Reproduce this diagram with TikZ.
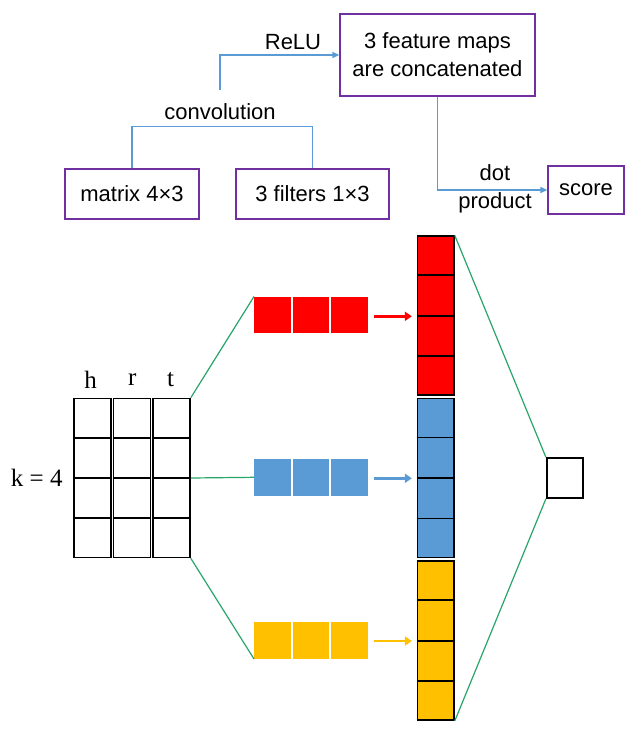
\documentclass[tikz,border=0pt]{standalone}
\usepackage{fontspec}
\setmainfont{Liberation Sans}
\newfontfamily\serifface{Liberation Serif}
\usetikzlibrary{arrows.meta}
\definecolor{boxpurple}{RGB}{112,48,160}
\definecolor{linkblue}{RGB}{91,155,213}
\definecolor{fillred}{RGB}{255,0,0}
\definecolor{fillblue}{RGB}{91,155,213}
\definecolor{fillyellow}{RGB}{255,192,0}
\definecolor{linkgreen}{RGB}{40,165,105}
\tikzset{
  lbox/.style={draw=boxpurple, line width=1.3pt, inner sep=0pt, align=center,
    font=\fontsize{22}{28}\selectfont},
  lbl/.style={inner sep=0pt, font=\fontsize{22}{28}\selectfont, align=center},
  sel/.style={inner sep=0pt, font=\serifface\fontsize{25}{30}\selectfont},
  link/.style={draw=linkblue, line width=1.3pt},
  linkarrow/.style={link, -{Triangle[length=7pt,width=6pt]}},
  mcol/.style={draw=black, line width=1.6pt, minimum width=37pt, minimum height=159pt, inner sep=0pt},
  fbar/.style={inner sep=0pt, minimum width=114pt, minimum height=36.5pt},
  ccell/.style={draw=black, line width=1.6pt, minimum width=36.3pt, minimum height=159pt, inner sep=0pt},
  green/.style={draw=linkgreen, line width=1.2pt},
  barrow/.style={line width=2.8pt, -{Triangle[length=7pt,width=9pt]}}
}
\begin{document}
\begin{tikzpicture}[x=1pt,y=-1pt]
\useasboundingbox (0,0) rectangle (641,729);
% ---------- top flow ----------
\node[lbox, minimum width=195pt, minimum height=82pt] (fm) at (437.5,55) {3 feature maps\\are concatenated};
\node[lbox, minimum width=134pt, minimum height=50pt] (mat) at (132,194) {matrix 4\texttimes 3};
\node[lbox, minimum width=153pt, minimum height=50pt] (fil) at (312.5,194) {3 filters 1\texttimes 3};
\node[lbox, minimum width=76pt, minimum height=48pt] (score) at (586,190) {score};
\node[lbl] (conv) at (220,112) {convolution};
\node[lbl] (relu) at (293,42) {ReLU};
\node[lbl] (dot) at (495,173) {dot};
\node[lbl] (prod) at (495,203) {product};
\coordinate (cstart) at (220,90);
\draw[link] (mat.north) -- ++(0,-42) -| (fil.north);
\draw[linkarrow] (cstart) |- (fm.west);
\draw[linkarrow] (fm.south) |- (score.west);
% ---------- input matrix ----------
\foreach \i/\x in {1/92.5,2/132,3/171.5}{
  \node[mcol] (c\i) at (\x,478) {};
  \draw[black, line width=1.6pt] (c\i.west |- 0,438) -- (c\i.east |- 0,438)
       (c\i.west |- 0,478) -- (c\i.east |- 0,478)
       (c\i.west |- 0,518) -- (c\i.east |- 0,518);
}
\node[sel] (h) at (90.7,380) {h};
\node[sel] (r) at (132.3,380) {r};
\node[sel] (t) at (170.7,380) {t};
\node[sel] (k) at (36.7,478) {k = 4};
% ---------- filter outputs ----------
\foreach \n/\y/\col in {rb/315/fillred,bb/477.3/fillblue,yb/640.5/fillyellow}{
  \node[fbar, fill=\col] (\n) at (311.2,\y) {};
  \draw[white, line width=1.3pt] ([xshift=38pt]\n.north west) -- ([xshift=38pt]\n.south west)
       ([xshift=76pt]\n.north west) -- ([xshift=76pt]\n.south west);
}
% ---------- concatenated column ----------
\foreach \n/\y/\col in {rc/315.7/fillred,bc/478/fillblue,yc/640.7/fillyellow}{
  \node[ccell, fill=\col] (\n) at (435.8,\y) {};
  \draw[black, line width=1.6pt] ([yshift=-39.75pt]\n.north west) -- ([yshift=-39.75pt]\n.north east)
       (\n.west) -- (\n.east)
       ([yshift=39.75pt]\n.south west) -- ([yshift=39.75pt]\n.south east);
}
\coordinate (ra) at (374,316.3);
\coordinate (ba) at (374,478.3);
\coordinate (ya) at (374,641);
\draw[barrow, fillred] (ra) -- ([xshift=-5pt]rc.west |- ra);
\draw[barrow, fillblue] (ba) -- ([xshift=-5pt]bc.west |- ba);
\draw[barrow, fillyellow] (ya) -- ([xshift=-5pt]yc.west |- ya);
% ---------- score square ----------
\node[draw=black, line width=1.6pt, minimum width=36pt, minimum height=40pt, inner sep=0pt] (sq) at (564.7,478) {};
% ---------- green links ----------
\draw[green] (c3.north east) -- (rb.north west);
\draw[green] (c3.east) -- (bb.west);
\draw[green] (c3.south east) -- (yb.south west);
\draw[green] (rc.north east) -- (sq.north west);
\draw[green] (yc.south east) -- (sq.south west);
\end{tikzpicture}
\end{document}
